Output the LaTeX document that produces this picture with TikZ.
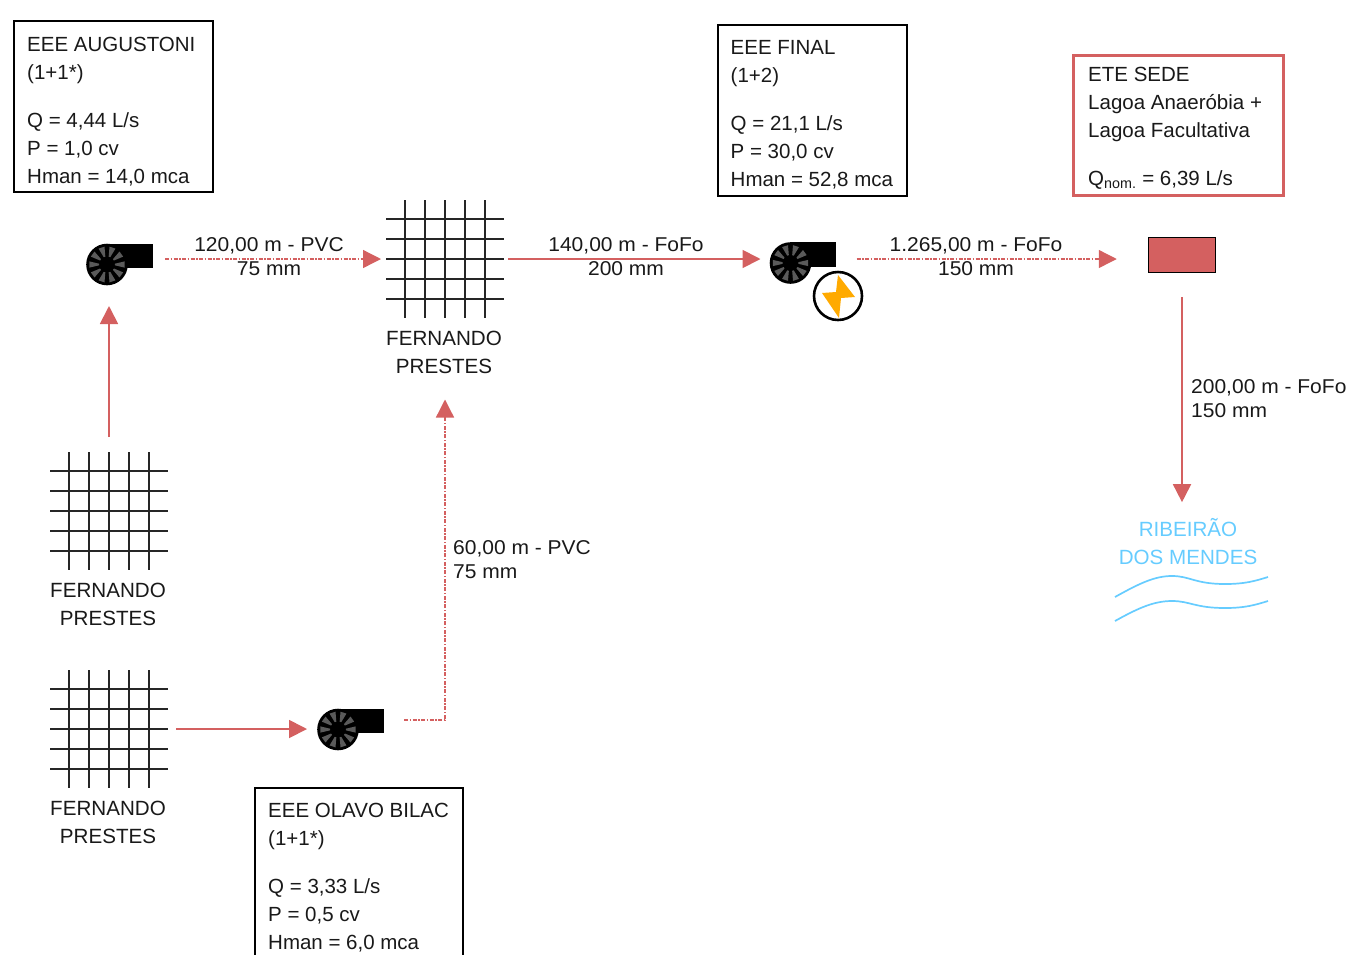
\documentclass[tikz,border=0pt]{standalone}
\usepackage{fontspec}
\setmainfont{Liberation Sans}
\newfontfamily\pipefont[FakeStretch=1.05]{Liberation Sans}
\usetikzlibrary{arrows.meta}
\definecolor{pipered}{HTML}{D46060}
\definecolor{riverblue}{HTML}{66CCFF}
\definecolor{bladegray}{HTML}{5A5A5A}
\definecolor{boltorange}{HTML}{FFAA00}
\tikzset{
  boxtext/.style={font=\fontsize{20.5}{28}\selectfont, text=black!90, align=left, inner sep=0pt, anchor=north west},
  infobox/.style={draw=black, line width=2.2pt, inner sep=0pt, outer sep=0pt},
  placename/.style={font=\fontsize{20.6}{28}\selectfont, text=black!90, align=center, inner sep=0pt},
  pipetext/.style={font=\pipefont\fontsize{20}{24}\selectfont, text=black!90, inner sep=0pt},
  pipe/.style={draw=pipered, line width=1.8pt, -{Triangle[length=18pt,width=18pt]}},
  pipedash/.style={pipe, line width=1.3pt, dash pattern=on 4pt off 1.5pt on 1.5pt off 1.5pt},
  hub/.style={inner sep=0pt, outer sep=0pt, minimum size=118pt},
  pumpbox/.style={inner sep=0pt, outer sep=0pt, minimum width=66pt, minimum height=43pt},
  mesh/.pic={
    \foreach \d in {-40,-20,0,20,40}{
      \draw[line width=2pt, black!85] (\d,-59) -- (\d,59);
      \draw[line width=2pt, black!85] (-59,\d) -- (59,\d);
    }
  },
  pump/.pic={
    \fill[black] (-13,-21) rectangle (32.5,3.5);
    \fill[black] (-13,0) circle (20.8pt);
    \foreach \a in {0,36,...,324}{
      \fill[bladegray] ([shift={(-13,0)}]\a-6:8) -- ([shift={(-13,0)}]\a-10:18)
        -- ([shift={(-13,0)}]\a+10:18) -- ([shift={(-13,0)}]\a+6:8) -- cycle;
    }
  }
}
\begin{document}
\begin{tikzpicture}[x=1pt,y=-1pt]
  \useasboundingbox (0,0) rectangle (1351,954);
  \clip (0,0) rectangle (1351,954);

  % grids and place names
  \node[hub] at (109,511) (gridA) {};
  \node[hub] at (445,259) (gridB) {};
  \node[hub] at (109,729) (gridC) {};
  \pic at (gridA) {mesh};
  \pic at (gridB) {mesh};
  \pic at (gridC) {mesh};
  \node[placename] at (108,604) (nameA) {FERNANDO\\PRESTES};
  \node[placename] at (444,352) (nameB) {FERNANDO\\PRESTES};
  \node[placename] at (108,822) (nameC) {FERNANDO\\PRESTES};

  % pumps
  \node[pumpbox] at (120,264.5) (pumpA) {};
  \node[pumpbox] at (351,729.5) (pumpC) {};
  \node[pumpbox] at (803.5,263) (pumpF) {};
  \pic at (pumpA) {pump};
  \pic at (pumpC) {pump};
  \pic at (pumpF) {pump};
  \node[circle, draw=black, line width=2.6pt, fill=white, minimum size=48pt, inner sep=0pt] at (838,296) (boltF) {};
  \fill[boltorange] (838,275) -- (855,297) -- (841,298) -- (839,318) -- (822,293) -- (836,292) -- cycle;

  % treatment and river
  \node[draw=black, line width=1.5pt, fill=pipered, minimum width=67pt, minimum height=35pt, inner sep=0pt] at (1182,255) (tankE) {};
  \node[placename, text=riverblue] at (1188,541.5) (nameR) {RIBEIRÃO\\DOS MENDES};
  \draw[riverblue, line width=1.7pt] (1115,597) .. controls (1140,583) and (1155,576) .. (1172,576)
    .. controls (1190,576) and (1195,584) .. (1225,584) .. controls (1245,584) and (1255,581) .. (1268,577);
  \draw[riverblue, line width=1.7pt] (1115,621) .. controls (1140,607) and (1155,601) .. (1172,601)
    .. controls (1190,601) and (1195,608) .. (1225,608) .. controls (1245,608) and (1255,605) .. (1268,601);

  % pipes
  \coordinate (bendC) at (445,720);
  \draw[pipe, shorten <=15pt, shorten >=20pt] (gridA.north) -- (gridA.north |- pumpA.south);
  \draw[pipedash, shorten <=12pt, shorten >=5pt] (pumpA.east |- gridB.west) -- (gridB.west);
  \draw[pipe, shorten <=8pt, shorten >=11pt] (gridC.east) -- (gridC.east -| pumpC.west);
  \draw[pipedash, shorten <=20pt, shorten >=26pt] (pumpC.east |- bendC) -- (bendC) -- (bendC |- nameB.south);
  \draw[pipe, shorten <=4pt, shorten >=10pt] (gridB.east) -- (gridB.east -| pumpF.west);
  \draw[pipedash, shorten <=20pt, shorten >=31pt] (pumpF.east |- gridB.east) -- (gridB.east -| tankE.west);
  \draw[pipe, shorten <=24pt, shorten >=16pt] (tankE.south) -- (tankE.south |- nameR.north);

  % pipe labels
  \node[pipetext, align=center] at (269,257) (pipeA) {120,00 m - PVC\\75 mm};
  \node[pipetext, align=center] at (626,257) (pipeB) {140,00 m - FoFo\\200 mm};
  \node[pipetext, align=center] at (976,257) (pipeF) {1.265,00 m - FoFo\\150 mm};
  \node[pipetext, align=left, anchor=west] at (453,560) (pipeC) {60,00 m - PVC\\75 mm};
  \node[pipetext, align=left, anchor=west] at (1191,399) (pipeE) {200,00 m - FoFo\\150 mm};

  % boxes
  \node[infobox, minimum width=199pt, minimum height=171pt] at (113.5,106.5) (boxA) {};
  \node[infobox, minimum width=189pt, minimum height=171pt] at (812.5,110.5) (boxF) {};
  \node[infobox, minimum width=208pt, minimum height=171pt] at (359,873.5) (boxC) {};
  \node[infobox, draw=pipered, line width=3.4pt, minimum width=210pt, minimum height=140pt] at (1178.5,125.5) (boxE) {};
  \node[boxtext] at (27,36.5) (textA)
    {EEE AUGUSTONI\\(1+1*)\\[20pt]Q = 4,44 L/s\\P = 1,0 cv\\Hman = 14,0 mca};
  \node[boxtext] at (730.5,40.5) (textF)
    {EEE FINAL\\(1+2)\\[20pt]Q = 21,1 L/s\\P = 30,0 cv\\Hman = 52,8 mca};
  \node[boxtext] at (268,802.5) (textC)
    {EEE OLAVO BILAC\\(1+1*)\\[20pt]Q = 3,33 L/s\\P = 0,5 cv\\Hman = 6,0 mca};
  \node[boxtext] at (1088,66.5) (textE)
    {ETE SEDE\\Lagoa Anaeróbia +\\Lagoa Facultativa\\[20pt]Q\textsubscript{nom.} = 6,39 L/s};
\end{tikzpicture}
\end{document}
